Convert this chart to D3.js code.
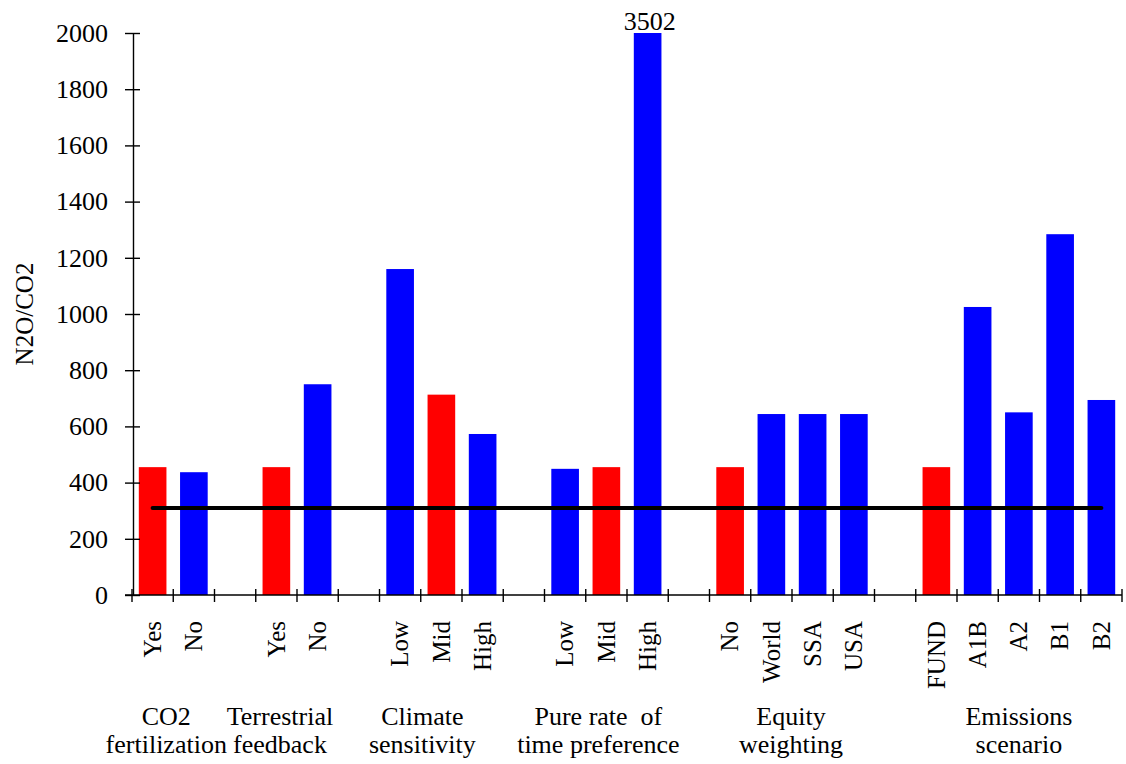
<!DOCTYPE html>
<html>
<head>
<meta charset="utf-8">
<script src="https://cdn.jsdelivr.net/npm/d3@7"></script>
<style>
  html, body { margin: 0; padding: 0; background: #fff; }
  svg { display: block; font-family: "Liberation Serif", "Times New Roman", serif; }
</style>
</head>
<body>
<svg id="chart" width="1126" height="764"></svg>
<script>
// ---- data ----
const groupNames = [
  ["CO2", "fertilization"],
  ["Terrestrial", "feedback"],
  ["Climate", "sensitivity"],
  ["Pure rate  of", "time preference"],
  ["Equity", "weighting"],
  ["Emissions", "scenario"]
];
const categories = ["Yes","No","Yes","No","Low","Mid","High","Low","Mid","High","No","World","SSA","USA","FUND","A1B","A2","B1","B2"];
const groupIndex = [0,0,1,1,2,2,2,3,3,3,4,4,4,4,5,5,5,5,5];
const values = [455,437,455,750,1160,713,573,449,455,3502,455,644,644,644,455,1025,650,1284,694];
const isBaseCase = [true,false,true,false,false,true,false,false,true,false,true,false,false,false,true,false,false,false,false];
const referenceValue = 310;
const yTicks = [0,200,400,600,800,1000,1200,1400,1600,1800,2000];
const yMax = 2000;
const yTitle = "N2O/CO2";

// ---- layout ----
const groupLabelDx = [-7, -17, -19, -8, -1, 0];
const svg = d3.select("#chart");
const plotLeft = 132, plotRight = 1122, plotTop = 33, plotBottom = 595;

// build slots: categories with a blank slot between groups
const slots = [];
categories.forEach((c, i) => {
  if (i > 0 && groupIndex[i] !== groupIndex[i - 1]) slots.push({ blank: true, key: "gap" + i });
  slots.push({ blank: false, key: "c" + i, label: c, value: values[i], base: isBaseCase[i], group: groupIndex[i] });
});

const x = d3.scaleBand().domain(slots.map(d => d.key)).range([plotLeft, plotRight]).padding(0);
const y = d3.scaleLinear().domain([0, yMax]).range([plotBottom, plotTop]);
const bw = x.bandwidth() * 0.67;

const bars = slots.filter(d => !d.blank);

// bars
svg.append("g").selectAll("rect").data(bars).join("rect")
  .attr("x", d => x(d.key) + (x.bandwidth() - bw) / 2)
  .attr("width", bw)
  .attr("y", d => y(Math.min(d.value, yMax)))
  .attr("height", d => y(0) - y(Math.min(d.value, yMax)))
  .attr("fill", d => d.base ? "#ff0000" : "#0000ff");

// clipped value labels
svg.append("g").selectAll("text").data(bars.filter(d => d.value > yMax)).join("text")
  .attr("x", d => x(d.key) + x.bandwidth() / 2 + 2)
  .attr("y", y(yMax) - 3)
  .attr("text-anchor", "middle")
  .attr("font-size", 26)
  .attr("fill", "#000")
  .text(d => d.value);

// y axis
const yAxis = svg.append("g")
  .attr("transform", `translate(${plotLeft + 1},0)`)
  .call(d3.axisLeft(y).tickValues(yTicks).tickSize(8).tickSizeOuter(0).tickPadding(17).tickFormat(d3.format("d")));
yAxis.select(".domain").attr("stroke", "#000").attr("stroke-width", 1.4);
yAxis.selectAll(".tick line").attr("x1", 7).attr("stroke", "#000").attr("stroke-width", 1.4);
yAxis.selectAll(".tick text").attr("font-size", 26).attr("font-family", "Liberation Serif").attr("fill", "#000");

// x axis line and boundary ticks
const boundaries = slots.map(d => x(d.key)).concat([plotRight]);
const xAxis = svg.append("g");
xAxis.append("line")
  .attr("x1", plotLeft - 7).attr("x2", plotRight)
  .attr("y1", y(0)).attr("y2", y(0))
  .attr("stroke", "#000").attr("stroke-width", 1.4);
xAxis.selectAll("line.b").data(boundaries).join("line")
  .attr("class", "b")
  .attr("x1", d => d).attr("x2", d => d)
  .attr("y1", y(0) - 6).attr("y2", y(0) + 7)
  .attr("stroke", "#000").attr("stroke-width", 1.4);

// category labels (rotated)
svg.append("g").selectAll("text").data(bars).join("text")
  .attr("transform", d => `translate(${x(d.key) + x.bandwidth() / 2},621) rotate(-90)`)
  .attr("text-anchor", "end")
  .attr("dy", "0.33em")
  .attr("font-size", 25)
  .attr("fill", "#000")
  .text(d => d.label);

// group labels
const groupCenters = groupNames.map((g, gi) => {
  const ks = bars.filter(b => b.group === gi);
  const x0 = x(ks[0].key), x1 = x(ks[ks.length - 1].key) + x.bandwidth();
  return (x0 + x1) / 2 + groupLabelDx[gi];
});
const gl = svg.append("g").selectAll("text").data(groupNames).join("text")
  .attr("text-anchor", "middle")
  .attr("font-size", 26)
  .attr("fill", "#000")
  .style("white-space", "pre");
gl.each(function(d, i) {
  const t = d3.select(this);
  t.append("tspan").attr("x", groupCenters[i]).attr("y", 725).text(d[0]);
  t.append("tspan").attr("x", groupCenters[i]).attr("y", 753).text(d[1]);
});

// reference line
svg.append("line")
  .attr("x1", x(bars[0].key) + x.bandwidth() / 2)
  .attr("x2", x(bars[bars.length - 1].key) + x.bandwidth() / 2)
  .attr("y1", y(referenceValue)).attr("y2", y(referenceValue))
  .attr("stroke", "#000").attr("stroke-width", 4).attr("stroke-linecap", "round");

// y title
svg.append("text")
  .attr("transform", `translate(24,${(plotTop + plotBottom) / 2}) rotate(-90)`)
  .attr("text-anchor", "middle")
  .attr("dy", "0.35em")
  .attr("font-size", 25)
  .attr("fill", "#000")
  .text(yTitle);
</script>
</body>
</html>
